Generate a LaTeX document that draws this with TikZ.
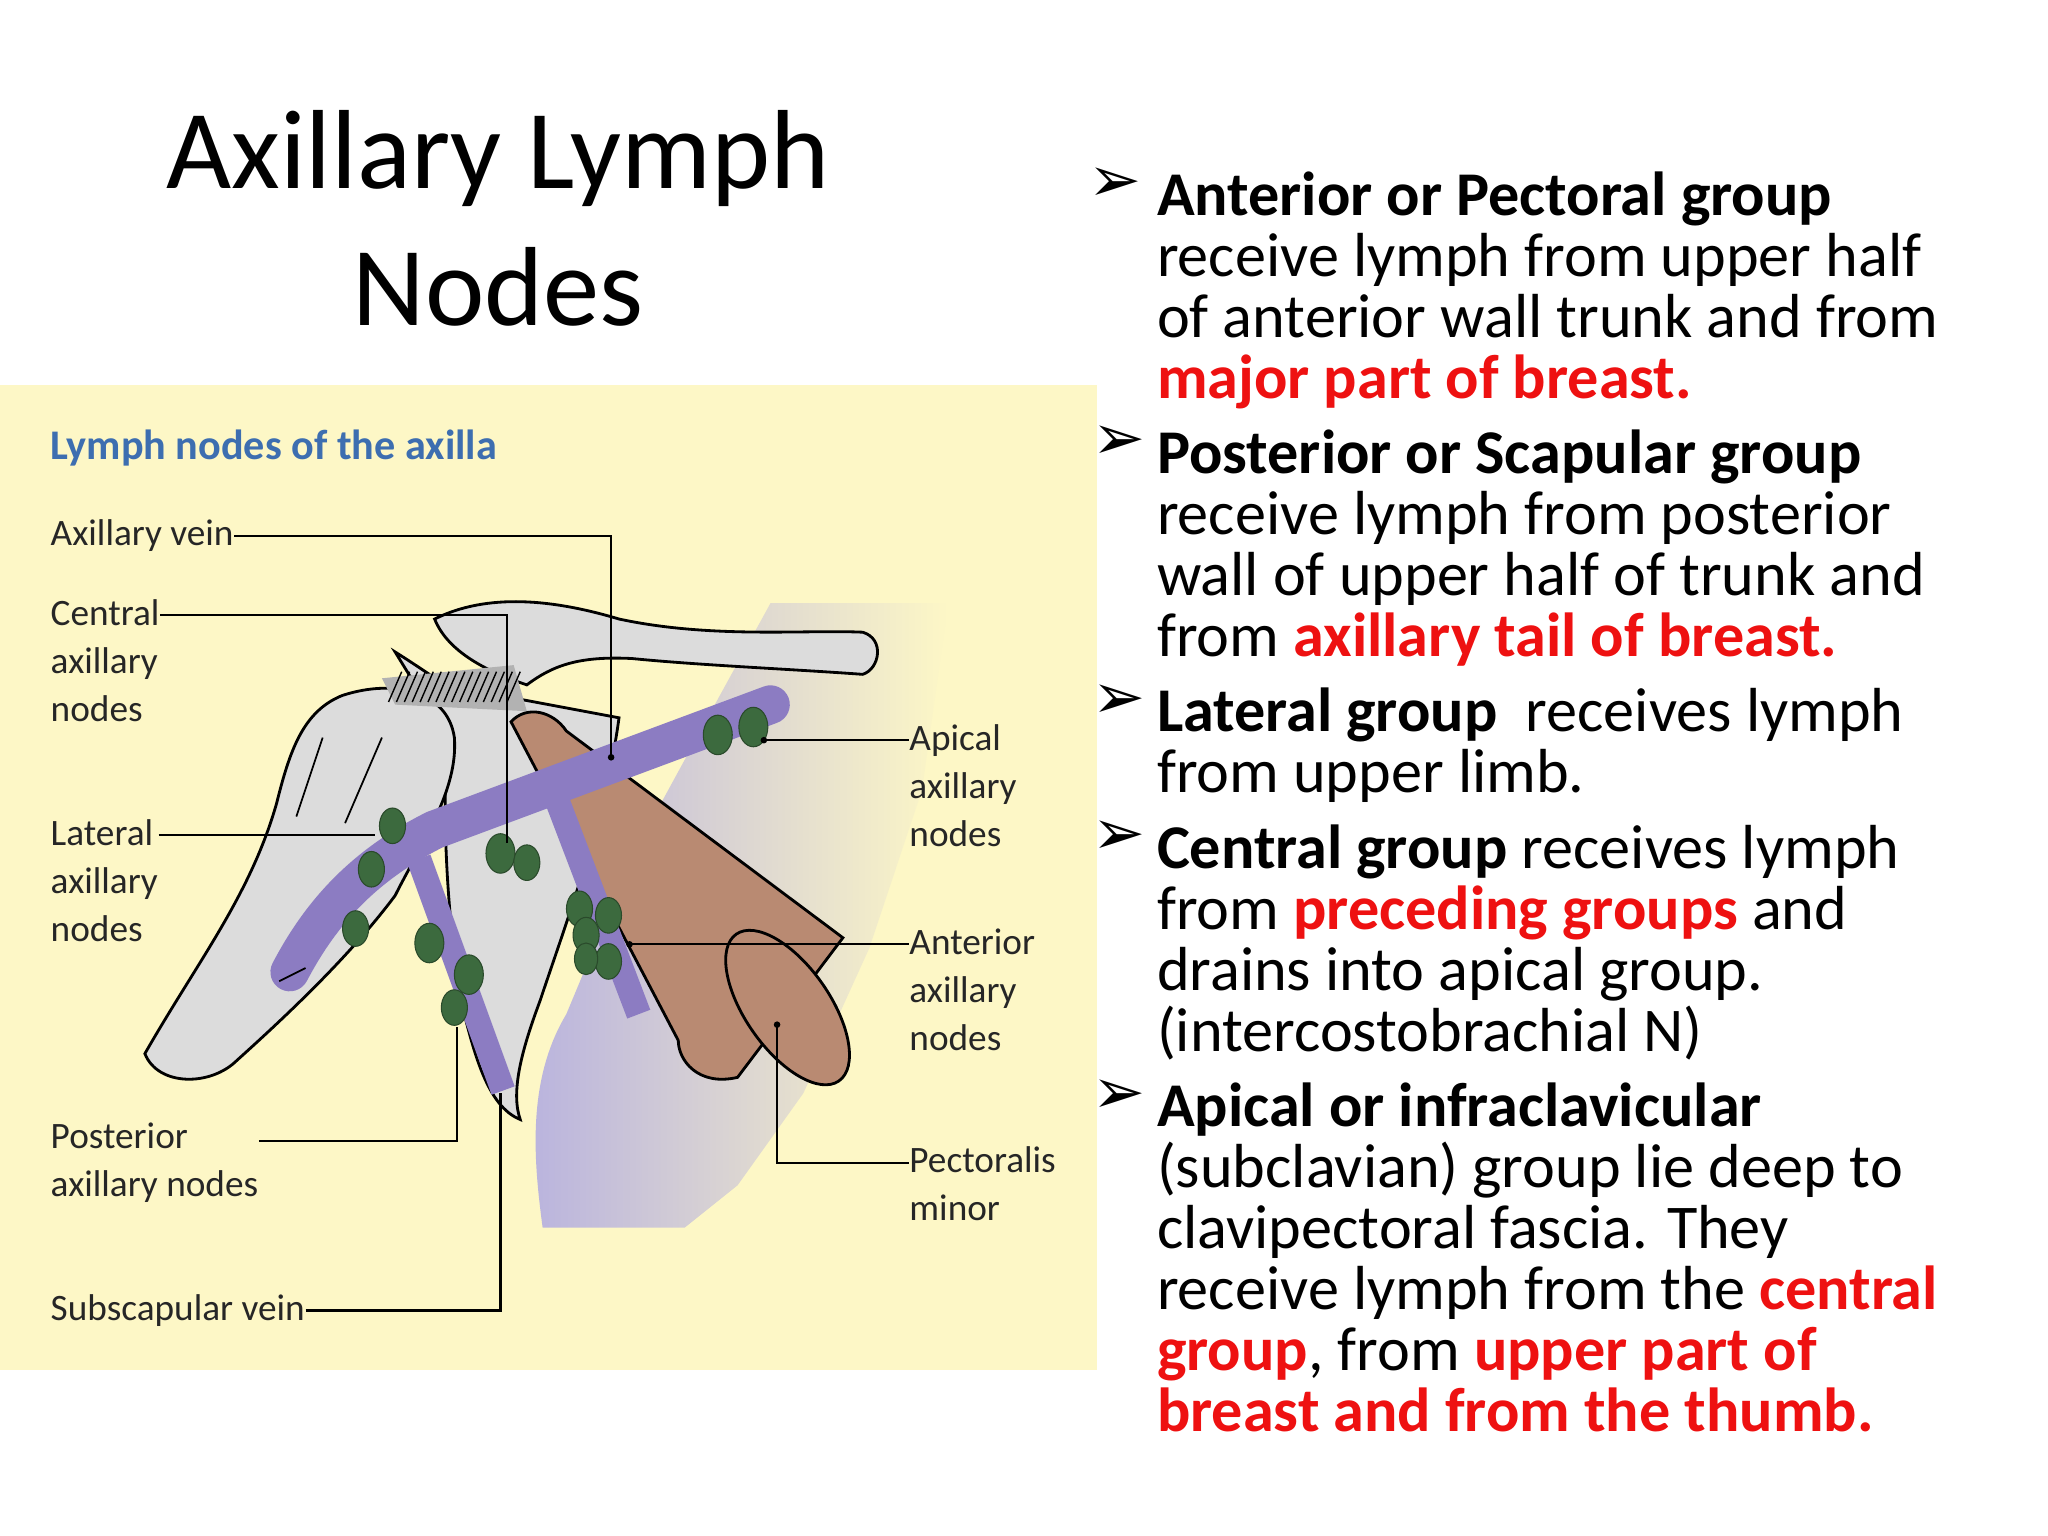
\documentclass[tikz,border=0pt]{standalone}
\usepackage{fontspec}
\setmainfont{Carlito}
\newfontfamily\sym{DejaVu Sans}
\definecolor{bgy}{HTML}{FDF7C6}
\definecolor{lav}{HTML}{B9B3DE}
\definecolor{vein}{HTML}{8C7CC2}
\definecolor{nodeg}{HTML}{3C6A3E}
\definecolor{musc}{HTML}{B98A72}
\definecolor{bone}{HTML}{DCDCDC}
\definecolor{ttl}{HTML}{3D6EB0}
\definecolor{rd}{HTML}{EE1111}
\begin{document}
\begin{tikzpicture}[x=0.01317cm,y=-0.01317cm,
  lab/.style={font=\fontsize{10.6}{13.6}\selectfont,align=left,inner sep=0pt,text=black!85},
  lead/.style={line width=0.6pt},
  ln/.style={fill=nodeg,draw=nodeg!70!black,line width=0.3pt},
  bl/.style={anchor=north west,align=left,inner sep=0pt,font=\fontsize{17.7}{17.3}\selectfont},
  bu/.style={anchor=north west,inner sep=0pt,font=\sym\fontsize{18}{18}\selectfont}]
\useasboundingbox (0,0) rectangle (1555,1166);
\fill[white] (0,0) rectangle (1555,1166);
\node[font=\fontsize{32}{39}\selectfont,align=center] (title) at (378,166) {Axillary Lymph\\Nodes};
% diagram panel
\fill[bgy] (0,292) rectangle (833,1040);
\shade[left color=lav,right color=bgy] (585,458) -- (720,458) -- (700,600) -- (660,720) -- (610,830) -- (560,900) -- (520,932) -- (412,932) .. controls (405,880) and (400,820) .. (430,770) -- (480,650) -- (540,540) -- cycle;
% scapula
\filldraw[fill=bone,draw=black,line width=0.8pt] (300,495) .. controls (340,520) and (360,540) .. (390,530) -- (470,545) .. controls (460,620) and (430,700) .. (410,760) .. controls (395,800) and (388,830) .. (395,850) .. controls (370,840) and (360,800) .. (350,760) .. controls (340,700) and (335,620) .. (340,560) -- cycle;
% humerus
\filldraw[fill=bone,draw=black,line width=0.8pt] (110,800) .. controls (150,730) and (190,680) .. (210,610) .. controls (220,570) and (230,540) .. (260,528) .. controls (300,515) and (340,525) .. (345,560) .. controls (348,600) and (320,640) .. (300,680) .. controls (270,720) and (230,760) .. (180,805) .. controls (160,825) and (120,825) .. cycle;
\draw[line width=0.5pt] (245,560) -- (225,620) (290,560) -- (262,625);
% clavicle
\filldraw[fill=bone,draw=black,line width=0.8pt] (330,470) .. controls (370,450) and (420,455) .. (470,470) .. controls (540,485) and (610,478) .. (655,480) .. controls (672,485) and (668,508) .. (655,512) .. controls (600,508) and (530,505) .. (480,500) .. controls (440,498) and (420,505) .. (400,520) .. controls (370,510) and (340,495) .. cycle;
\fill[gray!60] (290,515) -- (390,505) -- (400,540) -- (300,535) -- cycle;
\draw[line width=0.4pt] \foreach \i in {0,6,...,90} {(295+\i,533) -- (305+\i,510)};
% pectoralis minor
\filldraw[fill=musc,draw=black,line width=0.8pt] (388,548) .. controls (400,535) and (420,540) .. (430,555) -- (640,712) -- (560,818) .. controls (530,825) and (515,805) .. (515,790) -- cycle;
\filldraw[fill=musc,draw=black,line width=0.8pt,rotate around={35:(598,765)}] (598,765) ellipse (32 and 68);
% veins
\draw[vein,line width=11pt,line cap=round] (220,738) .. controls (240,700) and (270,660) .. (330,630) -- (585,535);
\draw[black,line width=0.5pt] (212,745) -- (232,735);
\draw[vein,line width=7pt] (318,652) -- (382,828);
\draw[vein,line width=7pt] (422,605) -- (485,770);
% lymph nodes
\foreach \p/\a/\r in {545/558/10,572/552/10,298/627/9,282/660/9,270/705/9,326/716/10,356/740/10,345/765/9,380/648/10,400/655/9,440/690/9,462/695/9,445/710/9,462/730/9,445/728/8}
  \path[ln] (\p,\a) ellipse (\r*1.1 and \r*1.5);
% leader lines
\node[lab,text=ttl,font=\fontsize{12}{13}\selectfont\bfseries] (lt) at (38,340) [anchor=west] {Lymph nodes of the axilla};
\node[lab,anchor=west] (av) at (38,407) {Axillary vein};
\node[lab,anchor=north west] (cn) at (38,455) {Central\\axillary\\nodes};
\node[lab,anchor=north west] (la) at (38,622) {Lateral\\axillary\\nodes};
\node[lab,anchor=north west] (pa) at (38,852) {Posterior\\axillary nodes};
\node[lab,anchor=west] (sv) at (38,995) {Subscapular vein};
\node[lab,anchor=north west] (ap) at (690,550) {Apical\\axillary\\nodes};
\node[lab,anchor=north west] (an) at (690,705) {Anterior\\axillary\\nodes};
\node[lab,anchor=north west] (pm) at (690,870) {Pectoralis\\minor};
\coordinate (c1) at (464,575); \coordinate (c2) at (385,640); \coordinate (c3) at (285,634);
\coordinate (c4) at (580,562); \coordinate (c5) at (478,717); \coordinate (c6) at (590,778);
\coordinate (c7) at (347,780); \coordinate (c8) at (380,830);
\draw[lead] (av.east) -- (464,407) -- (c1); \fill (c1) circle (2.5);
\draw[lead] (cn.north east |- 467,467) -- (385,467) -- (c2);
\draw[lead] (la.north east |- 634,634) -- (c3);
\draw[lead] (690,562) -- (c4); \fill (c4) circle (2.5);
\draw[lead] (690,717) -- (c5); \fill (c5) circle (2.5);
\draw[lead] (690,883) -- (590,883) -- (c6); \fill (c6) circle (2.5);
\draw[lead] (pa.north east |- 866,866) -- (347,866) -- (c7);
\draw[lead] (sv.east) -- (380,995) -- (c8);
% bullets
\node[bu] (b1) at (826,127) {➢};
\node[bu] (b2) at (829,323) {➢};
\node[bu] (b3) at (829,519) {➢};
\node[bu] (b4) at (829,623) {➢};
\node[bu] (b5) at (829,819) {➢};
\node[bl] (t1) at (878,130) {\textbf{Anterior or Pectoral group}\\receive lymph from upper half\\of anterior wall trunk and from\\\textcolor{rd}{\textbf{major part of breast.}}};
\node[bl] (t2) at (878,326) {\textbf{Posterior or Scapular group}\\receive lymph from posterior\\wall of upper half of trunk and\\from \textcolor{rd}{\textbf{axillary tail of breast.}}};
\node[bl] (t3) at (878,522) {\textbf{Lateral group}\ \ receives lymph\\from upper limb.};
\node[bl] (t4) at (878,626) {\textbf{Central group} receives lymph\\from \textcolor{rd}{\textbf{preceding groups}} and\\drains into apical group.\\(intercostobrachial N)};
\node[bl] (t5) at (878,822) {\textbf{Apical or infraclavicular}\\(subclavian) group lie deep to\\clavipectoral fascia. They\\receive lymph from the \textcolor{rd}{\textbf{central}}\\\textcolor{rd}{\textbf{group}}, from \textcolor{rd}{\textbf{upper part of}}\\\textcolor{rd}{\textbf{breast and from the thumb.}}};
\end{tikzpicture}
\end{document}
